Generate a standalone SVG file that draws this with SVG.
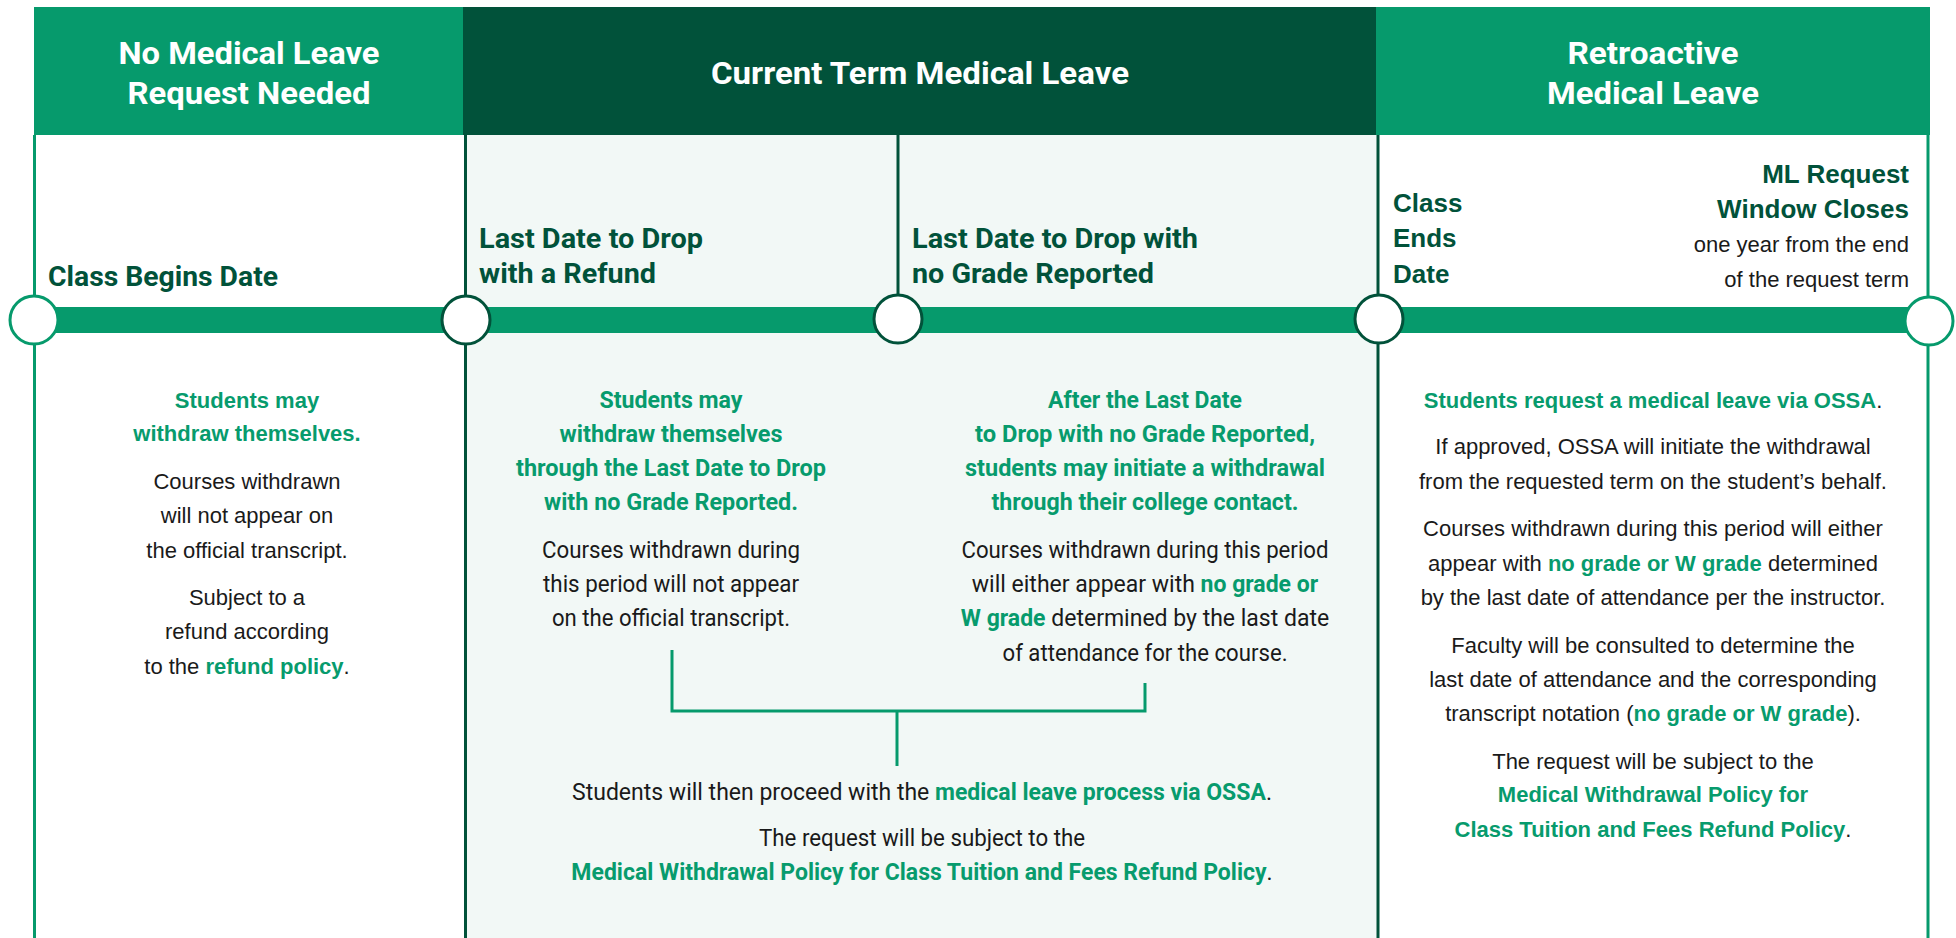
<svg xmlns="http://www.w3.org/2000/svg" width="1956" height="938" viewBox="0 0 1956 938">
<defs>
<style>
.hdr{font-family:Roboto,"Liberation Sans",sans-serif;font-weight:700;font-size:32px;fill:#ffffff;text-anchor:middle}
.lbl{font-family:Roboto,"Liberation Sans",sans-serif;font-weight:700;font-size:28px;fill:#01523a}
.lblw{font-family:"Liberation Sans",Arial,sans-serif;font-weight:700;font-size:26px;fill:#01523a}
.body{font-family:"Liberation Sans",Arial,sans-serif;font-size:22px;fill:#1a1a1a;text-anchor:middle}
.cbody{font-family:Roboto,"Liberation Sans",sans-serif;font-size:23px;fill:#1a1a1a;text-anchor:middle}
.g{fill:#079b6d;font-weight:700}
.vl{fill:none;stroke-width:3}
.mk{fill:#ffffff;stroke-width:3}
</style>
</defs>
<rect x="0" y="0" width="1956" height="938" fill="#ffffff"/>
<rect x="465" y="135" width="913" height="803" fill="#f2f8f6"/>

<g id="header-no-medical-leave">
<rect x="34" y="7" width="430" height="128" fill="#069a6c"/>
<text class="hdr" x="249" y="64" textLength="261" lengthAdjust="spacingAndGlyphs">No Medical Leave</text>
<text class="hdr" x="249" y="104" textLength="243" lengthAdjust="spacingAndGlyphs">Request Needed</text>
</g>
<g id="header-current-term">
<rect x="463" y="7" width="914" height="128" fill="#01523a"/>
<text class="hdr" x="920" y="84" textLength="418" lengthAdjust="spacingAndGlyphs">Current Term Medical Leave</text>
</g>
<g id="header-retroactive">
<rect x="1376" y="7" width="554" height="128" fill="#069a6c"/>
<text class="hdr" x="1653" y="64" textLength="171" lengthAdjust="spacingAndGlyphs">Retroactive</text>
<text class="hdr" x="1653" y="104" textLength="212" lengthAdjust="spacingAndGlyphs">Medical Leave</text>
</g>

<g id="connectors">
<line class="vl" x1="34.5" y1="135" x2="34.5" y2="938" stroke="#069a6c"/>
<line class="vl" x1="465.5" y1="135" x2="465.5" y2="938" stroke="#01523a" stroke-width="3.5"/>
<line class="vl" x1="898" y1="135" x2="898" y2="300" stroke="#01523a" stroke-width="2.5"/>
<line class="vl" x1="1378" y1="135" x2="1378" y2="938" stroke="#01523a" stroke-width="3.5"/>
<line class="vl" x1="1928" y1="135" x2="1928" y2="938" stroke="#069a6c"/>
<rect x="34" y="307" width="1894" height="26" fill="#069a6c"/>
<polyline points="672,650 672,711 1145,711 1145,683" fill="none" stroke="#069a6c" stroke-width="3"/>
<line x1="897" y1="711" x2="897" y2="766" stroke="#069a6c" stroke-width="3"/>
</g>

<g id="marker-class-begins">
<circle class="mk" cx="34" cy="320" r="24" stroke="#069a6c"/>
<text class="lbl" x="48" y="286" textLength="230" lengthAdjust="spacingAndGlyphs">Class Begins Date</text>
</g>
<g id="marker-drop-refund">
<circle class="mk" cx="466" cy="320" r="24" stroke="#01523a"/>
<text class="lbl" x="479" y="248" textLength="224" lengthAdjust="spacingAndGlyphs">Last Date to Drop</text>
<text class="lbl" x="479" y="283" textLength="177" lengthAdjust="spacingAndGlyphs">with a Refund</text>
</g>
<g id="marker-drop-no-grade">
<circle class="mk" cx="898" cy="319" r="24" stroke="#01523a"/>
<text class="lbl" x="912" y="248" textLength="286" lengthAdjust="spacingAndGlyphs">Last Date to Drop with</text>
<text class="lbl" x="912" y="283" textLength="242" lengthAdjust="spacingAndGlyphs">no Grade Reported</text>
</g>
<g id="marker-class-ends">
<circle class="mk" cx="1379" cy="319" r="24" stroke="#01523a"/>
<text class="lblw" x="1393" y="212">Class</text>
<text class="lblw" x="1393" y="247">Ends</text>
<text class="lblw" x="1393" y="283">Date</text>
</g>
<g id="marker-window-closes">
<circle class="mk" cx="1929" cy="321" r="24" stroke="#069a6c"/>
<text class="lblw" x="1909" y="183" text-anchor="end">ML Request</text>
<text class="lblw" x="1909" y="218" text-anchor="end">Window Closes</text>
<text class="body" x="1909" y="252" text-anchor="end" style="text-anchor:end">one year from the end</text>
<text class="body" x="1909" y="287" style="text-anchor:end">of the request term</text>
</g>

<g id="col-no-medical-leave">
<text class="body g" x="247" y="408">Students may</text>
<text class="body g" x="247" y="441">withdraw themselves.</text>
<text class="body" x="247" y="489">Courses withdrawn</text>
<text class="body" x="247" y="523">will not appear on</text>
<text class="body" x="247" y="558">the official transcript.</text>
<text class="body" x="247" y="605">Subject to a</text>
<text class="body" x="247" y="639">refund according</text>
<text class="body" x="247" y="674">to the <tspan class="g">refund policy</tspan>.</text>
</g>

<g id="col-self-withdraw">
<text class="cbody g" x="671" y="408" textLength="143" lengthAdjust="spacingAndGlyphs">Students may</text>
<text class="cbody g" x="671" y="442" textLength="223" lengthAdjust="spacingAndGlyphs">withdraw themselves</text>
<text class="cbody g" x="671" y="476" textLength="310" lengthAdjust="spacingAndGlyphs">through the Last Date to Drop</text>
<text class="cbody g" x="671" y="510" textLength="254" lengthAdjust="spacingAndGlyphs">with no Grade Reported.</text>
<text class="cbody" x="671" y="558" textLength="258" lengthAdjust="spacingAndGlyphs">Courses withdrawn during</text>
<text class="cbody" x="671" y="592" textLength="256" lengthAdjust="spacingAndGlyphs">this period will not appear</text>
<text class="cbody" x="671" y="626" textLength="238" lengthAdjust="spacingAndGlyphs">on the official transcript.</text>
</g>

<g id="col-college-contact">
<text class="cbody g" x="1145" y="408" textLength="194" lengthAdjust="spacingAndGlyphs">After the Last Date</text>
<text class="cbody g" x="1145" y="442" textLength="340" lengthAdjust="spacingAndGlyphs">to Drop with no Grade Reported,</text>
<text class="cbody g" x="1145" y="476" textLength="360" lengthAdjust="spacingAndGlyphs">students may initiate a withdrawal</text>
<text class="cbody g" x="1145" y="510" textLength="307" lengthAdjust="spacingAndGlyphs">through their college contact.</text>
<text class="cbody" x="1145" y="558" textLength="367" lengthAdjust="spacingAndGlyphs">Courses withdrawn during this period</text>
<text class="cbody" x="1145" y="592">will either appear with <tspan class="g">no grade or</tspan></text>
<text class="cbody" x="1145" y="626"><tspan class="g">W grade</tspan> determined by the last date</text>
<text class="cbody" x="1145" y="661" textLength="285" lengthAdjust="spacingAndGlyphs">of attendance for the course.</text>
</g>

<g id="col-ossa-process">
<text class="cbody" x="922" y="800">Students will then proceed with the <tspan class="g">medical leave process via OSSA</tspan>.</text>
<text class="cbody" x="922" y="846" textLength="326" lengthAdjust="spacingAndGlyphs">The request will be subject to the</text>
<text class="cbody" x="922" y="880"><tspan class="g">Medical Withdrawal Policy for Class Tuition and Fees Refund Policy</tspan>.</text>
</g>

<g id="col-retroactive">
<text class="body" x="1653" y="408"><tspan class="g">Students request a medical leave via OSSA</tspan>.</text>
<text class="body" x="1653" y="454">If approved, OSSA will initiate the withdrawal</text>
<text class="body" x="1653" y="489">from the requested term on the student’s behalf.</text>
<text class="body" x="1653" y="536">Courses withdrawn during this period will either</text>
<text class="body" x="1653" y="571">appear with <tspan class="g">no grade or W grade</tspan> determined</text>
<text class="body" x="1653" y="605">by the last date of attendance per the instructor.</text>
<text class="body" x="1653" y="653">Faculty will be consulted to determine the</text>
<text class="body" x="1653" y="687">last date of attendance and the corresponding</text>
<text class="body" x="1653" y="721">transcript notation (<tspan class="g">no grade or W grade</tspan>).</text>
<text class="body" x="1653" y="769">The request will be subject to the</text>
<text class="body g" x="1653" y="802">Medical Withdrawal Policy for</text>
<text class="body" x="1653" y="837"><tspan class="g">Class Tuition and Fees Refund Policy</tspan>.</text>
</g>
</svg>
